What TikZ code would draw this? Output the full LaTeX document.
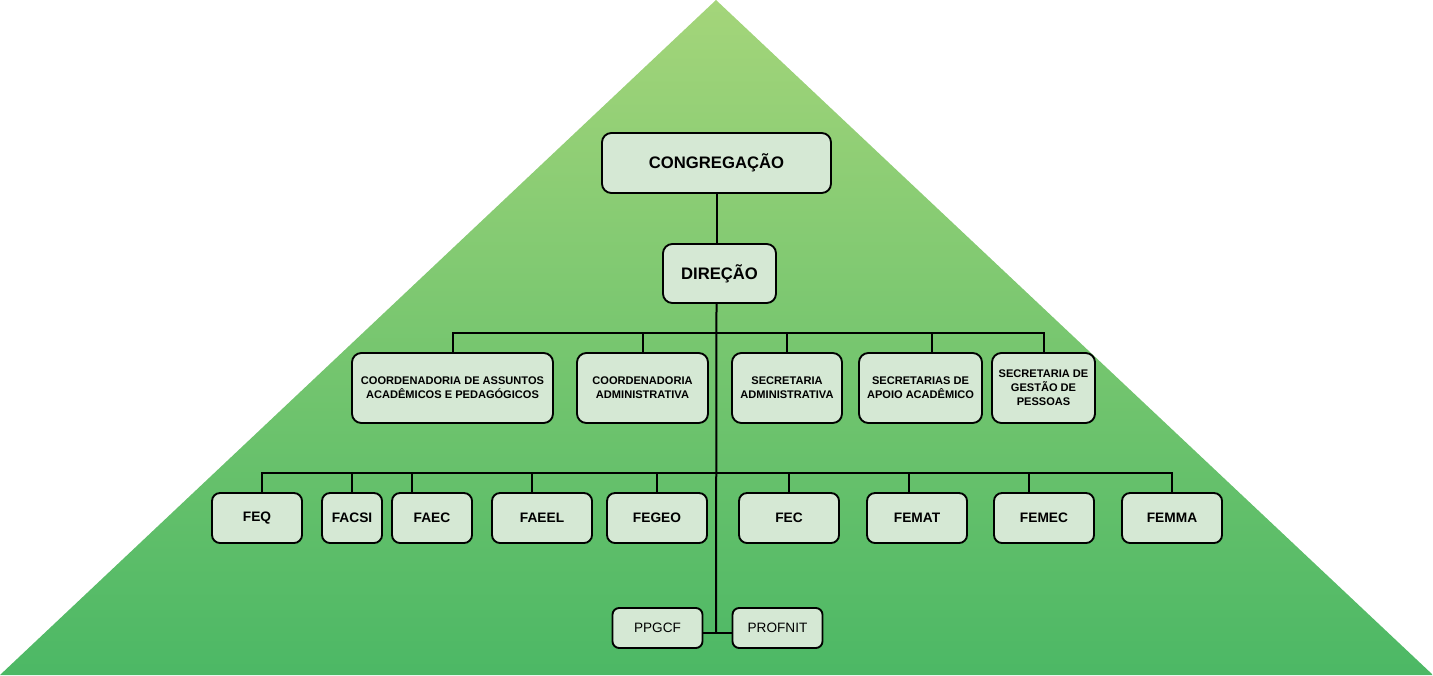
\documentclass[tikz,border=0pt]{standalone}
\usepackage{fontspec}
\setmainfont{Liberation Sans}
\usetikzlibrary{calc}

\definecolor{tritop}{HTML}{A4D57A}
\definecolor{tribot}{HTML}{4CB865}
\definecolor{boxfill}{HTML}{D5E8D4}

\begin{document}
\begin{tikzpicture}[
    x=0.75pt, y=-0.75pt,
    unit/.style={draw=black, fill=boxfill, line width=1.4pt, rounded corners=7pt, inner sep=0pt, align=center},
    topunit/.style={unit, font=\fontsize{12.5}{15}\selectfont\bfseries},
    secunit/.style={unit, minimum height=52.5pt, font=\fontsize{8.3}{10.5}\selectfont\bfseries},
    facunit/.style={unit, minimum height=37.5pt, rounded corners=6pt, font=\fontsize{10.3}{12}\selectfont\bfseries},
    progunit/.style={unit, minimum width=67.5pt, minimum height=30pt, rounded corners=5pt, font=\fontsize{10.2}{12}\selectfont},
    link/.style={line width=1.5pt}
]

\useasboundingbox (0,0) rectangle (1433,675);
\shade[top color=tritop, bottom color=tribot] (0,675) -- (716,0) -- (1433,675) -- cycle;

% bus junctions on the trunk
\coordinate (bus1) at (716,333);
\coordinate (bus2) at (716,473);
\coordinate (trunk) at (716,633);

\node[topunit, minimum width=171.75pt, minimum height=45pt] (congregacao) at (716.5,163) {CONGREGAÇÃO};
\node[topunit, minimum width=84.75pt, minimum height=44.25pt] (direcao) at (719.5,273.5) {DIREÇÃO};

\node[secunit, minimum width=150.75pt] (caap) at (452.5,388) {COORDENADORIA DE ASSUNTOS\\ACADÊMICOS E PEDAGÓGICOS};
\node[secunit, minimum width=98.25pt] (cadm) at (642.5,388) {COORDENADORIA\\ADMINISTRATIVA};
\node[secunit, minimum width=82.5pt] (sadm) at (787,388) {SECRETARIA\\ADMINISTRATIVA};
\node[secunit, minimum width=92.25pt] (sapoio) at (920.5,388) {SECRETARIAS DE\\APOIO ACADÊMICO};
\node[secunit, minimum width=77.25pt] (sgp) at (1043.5,388) {SECRETARIA DE\\GESTÃO DE\\PESSOAS};

\node[facunit, minimum width=67.5pt] (feq) at (257,518) {FEQ};
\node[facunit, minimum width=45pt] (facsi) at (352,518) {FACSI};
\node[facunit, minimum width=60pt] (faec) at (432,518) {FAEC};
\node[facunit, minimum width=75pt] (faeel) at (542,518) {FAEEL};
\node[facunit, minimum width=75pt] (fegeo) at (657,518) {FEGEO};
\node[facunit, minimum width=75pt] (fec) at (789,518) {FEC};
\node[facunit, minimum width=75pt] (femat) at (917,518) {FEMAT};
\node[facunit, minimum width=75pt] (femec) at (1044,518) {FEMEC};
\node[facunit, minimum width=75pt] (femma) at (1172,518) {FEMMA};

\node[progunit] (ppgcf) at (657.5,628) {PPGCF};
\node[progunit] (profnit) at (777.5,628) {PROFNIT};

\draw[link] (congregacao.south) -- (congregacao.south |- direcao.north);
\draw[link] (congregacao.south |- direcao.south) -- (trunk);

\draw[link] (caap.north) |- (bus1);
\draw[link] (cadm.north) |- (bus1);
\draw[link] (sadm.north) |- (bus1);
\draw[link] ($(sapoio.north)+(11.5,0)$) |- (bus1);
\draw[link] (sgp.north) |- (bus1);

\draw[link] ($(feq.north)+(5,0)$) |- (bus2);
\draw[link] (facsi.north) |- (bus2);
\draw[link] ($(faec.north)+(-20,0)$) |- (bus2);
\draw[link] ($(faeel.north)+(-10,0)$) |- (bus2);
\draw[link] (fegeo.north) |- (bus2);
\draw[link] (fec.north) |- (bus2);
\draw[link] ($(femat.north)+(-8,0)$) |- (bus2);
\draw[link] ($(femec.north)+(-15,0)$) |- (bus2);
\draw[link] (femma.north) |- (bus2);

\draw[link] ($(ppgcf.east)+(0,5)$) -- ($(profnit.west)+(0,5)$);

\end{tikzpicture}
\end{document}
